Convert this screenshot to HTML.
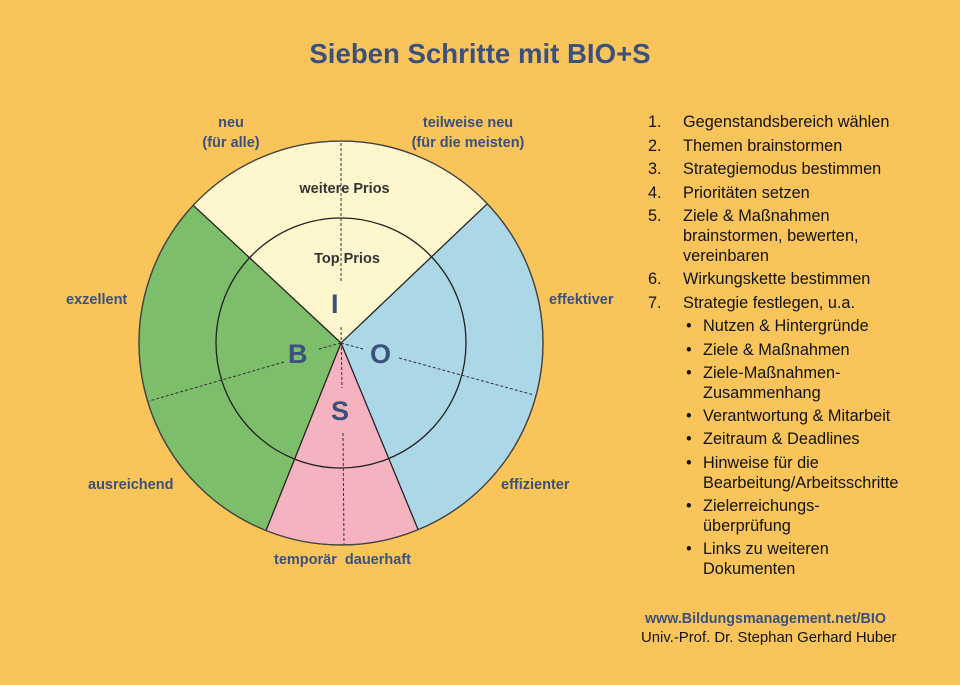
<!DOCTYPE html>
<html><head><meta charset="utf-8"><style>
body{margin:0;width:960px;height:685px;background:#f9c55b;font-family:"Liberation Sans",sans-serif;position:relative;overflow:hidden}
.t{position:absolute;white-space:nowrap}
.lab{color:#3b507c;font-weight:bold;font-size:14.5px;text-align:center}
.li{position:absolute;font-size:16.3px;color:#111;line-height:20px}
</style></head><body>
<div class="t" style="left:0;width:960px;top:38px;text-align:center;font-size:27.6px;font-weight:bold;color:#3b507c">Sieben Schritte mit BIO+S</div>
<svg width="960" height="685" style="position:absolute;left:0;top:0">
<g stroke="#222" stroke-width="1.2">
<path d="M341,343 L193.2,205.3 A202,202 0 0 1 487.3,203.8 Z" fill="#fef6cc"/>
<path d="M341,343 L487.3,203.8 A202,202 0 0 1 418.1,529.7 Z" fill="#acd7e6"/>
<path d="M341,343 L418.1,529.7 A202,202 0 0 1 266,530.5 Z" fill="#f4b3bf"/>
<path d="M341,343 L266,530.5 A202,202 0 0 1 193.2,205.3 Z" fill="#7dbe6a"/>
</g>
<circle cx="341" cy="343" r="202" fill="none" stroke="#444" stroke-width="1.3"/>
<circle cx="341" cy="343" r="125" fill="none" stroke="#222" stroke-width="1.3"/>
<g stroke="#333" stroke-width="1" stroke-dasharray="3,2">
<line x1="341" y1="143" x2="341" y2="282"/>
<line x1="341" y1="327" x2="342" y2="388"/>
<line x1="343" y1="433" x2="344" y2="545"/>
<line x1="341" y1="343" x2="319" y2="349"/>
<line x1="284" y1="362" x2="149" y2="401"/>
<line x1="341" y1="343" x2="363" y2="349"/>
<line x1="399" y1="358" x2="534" y2="395"/>
</g>
</svg>
<div class="t lab" style="left:181px;width:100px;top:113px;line-height:20px">neu<br>(für alle)</div>
<div class="t lab" style="left:388px;width:160px;top:113px;line-height:20px">teilweise neu<br>(für die meisten)</div>
<div class="t" style="left:282px;width:125px;text-align:center;top:181px;font-size:14.5px;font-weight:bold;color:#333">weitere Prios</div>
<div class="t" style="left:282px;width:130px;text-align:center;top:251px;font-size:14.5px;font-weight:bold;color:#333">Top Prios</div>
<div class="t" style="left:331px;top:289px;font-size:27px;font-weight:bold;color:#3b507c">I</div>
<div class="t" style="left:288px;top:339px;font-size:27px;font-weight:bold;color:#3b507c">B</div>
<div class="t" style="left:370px;top:339px;font-size:27px;font-weight:bold;color:#3b507c">O</div>
<div class="t" style="left:331px;top:396px;font-size:27px;font-weight:bold;color:#3b507c">S</div>
<div class="t lab" style="left:66px;top:292px">exzellent</div>
<div class="t lab" style="left:88px;top:477px">ausreichend</div>
<div class="t lab" style="left:549px;top:292px">effektiver</div>
<div class="t lab" style="left:501px;top:477px">effizienter</div>
<div class="t lab" style="left:274px;top:552px">temporär&nbsp; dauerhaft</div>
<div class="li" style="left:648px;top:112px">1.</div><div class="li" style="left:683px;top:112px">Gegenstandsbereich wählen</div>
<div class="li" style="left:648px;top:136px">2.</div><div class="li" style="left:683px;top:136px">Themen brainstormen</div>
<div class="li" style="left:648px;top:159px">3.</div><div class="li" style="left:683px;top:159px">Strategiemodus bestimmen</div>
<div class="li" style="left:648px;top:183px">4.</div><div class="li" style="left:683px;top:183px">Prioritäten setzen</div>
<div class="li" style="left:648px;top:206px">5.</div><div class="li" style="left:683px;top:206px">Ziele &amp; Maßnahmen<br>brainstormen, bewerten,<br>vereinbaren</div>
<div class="li" style="left:648px;top:269px">6.</div><div class="li" style="left:683px;top:269px">Wirkungskette bestimmen</div>
<div class="li" style="left:648px;top:293px">7.</div><div class="li" style="left:683px;top:293px">Strategie festlegen, u.a.</div>
<div class="li" style="left:686px;top:316px">•</div><div class="li" style="left:703px;top:316px">Nutzen &amp; Hintergründe</div>
<div class="li" style="left:686px;top:340px">•</div><div class="li" style="left:703px;top:340px">Ziele &amp; Maßnahmen</div>
<div class="li" style="left:686px;top:363px">•</div><div class="li" style="left:703px;top:363px">Ziele-Maßnahmen-<br>Zusammenhang</div>
<div class="li" style="left:686px;top:406px">•</div><div class="li" style="left:703px;top:406px">Verantwortung &amp; Mitarbeit</div>
<div class="li" style="left:686px;top:429px">•</div><div class="li" style="left:703px;top:429px">Zeitraum &amp; Deadlines</div>
<div class="li" style="left:686px;top:453px">•</div><div class="li" style="left:703px;top:453px">Hinweise für die<br>Bearbeitung/Arbeitsschritte</div>
<div class="li" style="left:686px;top:496px">•</div><div class="li" style="left:703px;top:496px">Zielerreichungs-<br>überprüfung</div>
<div class="li" style="left:686px;top:539px">•</div><div class="li" style="left:703px;top:539px">Links zu weiteren<br>Dokumenten</div>
<div class="t" style="left:645px;top:611px;font-size:14.3px;font-weight:bold;color:#3b507c">www.Bildungsmanagement.net/BIO</div>
<div class="t" style="left:641px;top:630px;font-size:14.9px;color:#111">Univ.-Prof. Dr. Stephan Gerhard Huber</div>
</body></html>
